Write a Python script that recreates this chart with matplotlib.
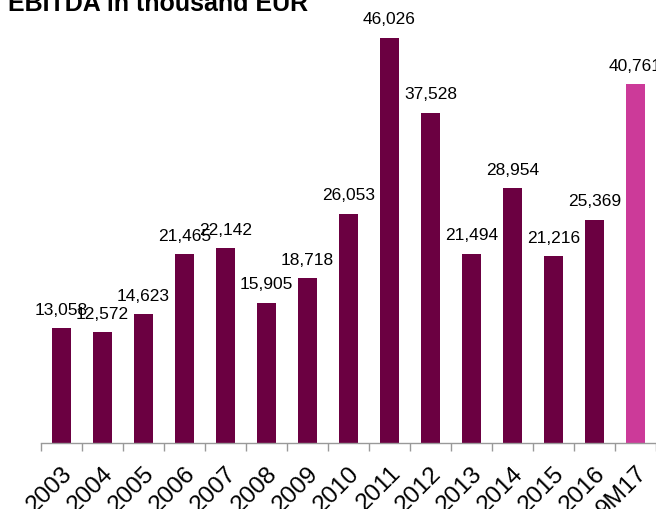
import matplotlib
matplotlib.use("Agg")
import matplotlib.pyplot as plt
import numpy as np

plt.rcParams['font.family'] = ['Liberation Sans', 'DejaVu Sans']

categories = ["2003", "2004", "2005", "2006", "2007", "2008", "2009", "2010",
              "2011", "2012", "2013", "2014", "2015", "2016", "9M17"]
values = [13058, 12572, 14623, 21465, 22142, 15905, 18718, 26053,
          46026, 37528, 21494, 28954, 21216, 25369, 40761]
dark = "#6B0041"
pink = "#CC3A99"
colors = [dark] * 14 + [pink]

fig = plt.figure(figsize=(6.56, 5.09), dpi=100)
ax = fig.add_axes([41/656, 66/509, 1 - 41/656, (443 - 3)/509])

x = np.arange(len(categories))
bars = ax.bar(x, values, width=0.46, color=colors, edgecolor='none')

for xi, v in zip(x, values):
    ax.text(xi, v + 1200, f"{v:,}", ha='center', va='bottom', fontsize=12.5, color='black')

ax.set_xlim(-0.5, len(categories) - 0.5)
ax.set_ylim(0, 50000)
ax.set_yticks([])
for s in ['left', 'right', 'top']:
    ax.spines[s].set_visible(False)
ax.spines['bottom'].set_color('#999999')
ax.spines['bottom'].set_linewidth(1.0)

ax.set_xticks(x)
ax.set_xticklabels(categories, rotation=45, ha='right', va='top',
                   rotation_mode='anchor', fontsize=17.5)
ax.tick_params(axis='x', which='major', length=0, pad=14)
ax.set_xticks(np.arange(-0.5, len(categories) + 0.5, 1), minor=True)
ax.tick_params(axis='x', which='minor', length=6, color='#999999', width=1.0)

fig.text(8/656, 1 - 11/509, "EBITDA in thousand EUR", fontsize=18, fontweight='bold',
         ha='left', va='baseline')

fig.savefig("out.png", dpi=100)
